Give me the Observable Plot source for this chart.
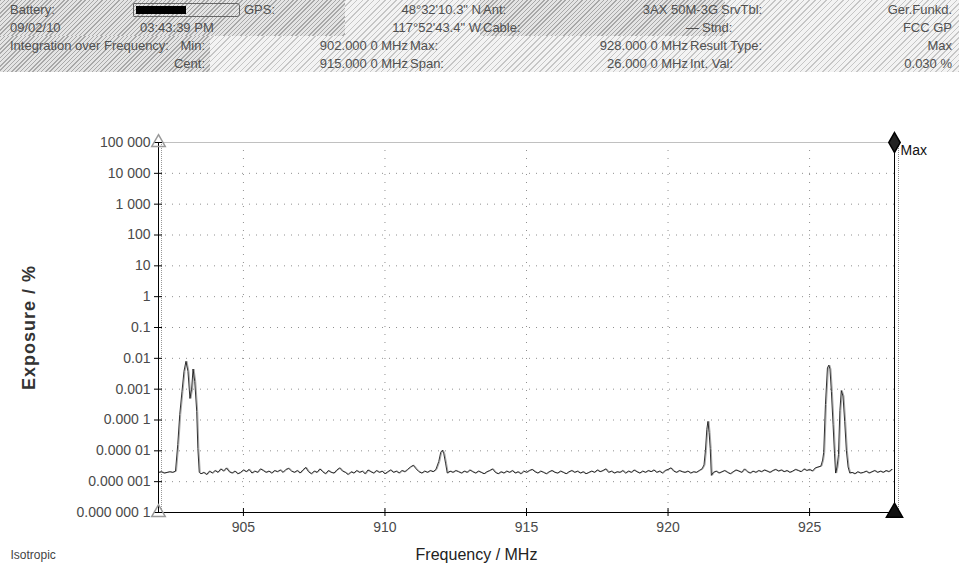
<!DOCTYPE html>
<html><head><meta charset="utf-8">
<script src="https://cdn.jsdelivr.net/npm/d3@7"></script>
<script src="https://cdn.jsdelivr.net/npm/@observablehq/plot@0.6"></script>
<style>
body{margin:0;background:#fff;font-family:"Liberation Sans",Arial,sans-serif;}
#header{position:relative;width:959px;height:72px;background:repeating-linear-gradient(135deg,#c6c6c6 0 1px,#f3f3f3 1px 4px);overflow:hidden}
.blk{position:absolute;background:repeating-linear-gradient(135deg,#a8a8a8 0 1px,#e4e4e4 1px 3px)}
.t{position:absolute;font-size:13px;line-height:14px;color:#505050;white-space:nowrap}
.bat{position:absolute;left:133px;top:3px;width:105px;height:12px;border:1px solid #666;border-radius:1px 3px 3px 1px}
.bat i{position:absolute;left:2px;top:2px;width:50px;height:8px;background:#000}
</style></head><body>
<div id="header"></div>
<div id="chart"></div>
<script>
// ---- header texts ----
const headerRow1 = ["Battery:", "", "GPS:", "48°32'10.3\" N", "Ant:", "3AX 50M-3G", "SrvTbl:", "Ger.Funkd."];
const headerRow2 = ["09/02/10", "03:43:39 PM", "", "117°52'43.4\" W", "Cable:", "—", "Stnd:", "FCC GP"];
const headerRow3 = ["Integration over Frequency:", "", "Min:", "902.000 0 MHz", "Max:", "928.000 0 MHz", "Result Type:", "Max"];
const headerRow4 = ["", "", "Cent:", "915.000 0 MHz", "Span:", "26.000 0 MHz", "Int. Val:", "0.030 %"];
const batteryLevel = 0.5;

// ---- axes ----
const yTicks = [1e5, 1e4, 1e3, 100, 10, 1, 0.1, 0.01, 0.001, 1e-4, 1e-5, 1e-6, 1e-7];
const yTickLabels = ["100 000", "10 000", "1 000", "100", "10", "1", "0.1", "0.01", "0.001", "0.000 1", "0.000 01", "0.000 001", "0.000 000 1"];
const xTicks = [905, 910, 915, 920, 925];

// ---- trace: [frequency MHz, exposure %] ----
const trace = [
[902.0,2.0e-6],[902.1,2.1e-6],[902.2,1.9e-6],[902.3,2.0e-6],[902.4,2.1e-6],[902.5,2.0e-6],[902.6,2.2e-6],
[902.68,1.6e-5],[902.75,1.5e-4],[902.83,8.5e-4],[902.9,3.8e-3],[902.97,8.0e-3],[903.04,3.8e-3],[903.11,5.0e-4],
[903.17,1.0e-3],[903.22,4.5e-3],[903.28,1.8e-3],[903.35,1.9e-4],[903.39,1.2e-5],[903.44,2.0e-6],
[903.5,1.8e-6],[903.6,2.0e-6],[903.7,1.7e-6],[903.8,2.2e-6],[903.9,1.9e-6],[904.0,2.3e-6],[904.1,2.0e-6],[904.2,2.6e-6],
[904.3,2.2e-6],[904.4,2.8e-6],[904.5,2.1e-6],[904.6,1.9e-6],[904.7,2.2e-6],[904.8,1.8e-6],[904.9,2.0e-6],[905.0,2.4e-6],
[905.1,2.1e-6],[905.2,2.5e-6],[905.3,1.9e-6],[905.4,2.2e-6],[905.5,2.0e-6],[905.6,2.6e-6],[905.7,2.3e-6],[905.8,2.0e-6],
[905.9,2.2e-6],[906.0,1.9e-6],[906.1,2.3e-6],[906.2,2.1e-6],[906.3,2.4e-6],[906.4,2.0e-6],[906.5,2.5e-6],[906.6,2.7e-6],
[906.7,2.2e-6],[906.8,2.0e-6],[906.9,2.3e-6],[907.0,1.9e-6],[907.1,2.4e-6],[907.2,2.9e-6],[907.3,2.1e-6],[907.4,1.8e-6],
[907.5,2.2e-6],[907.6,2.0e-6],[907.7,2.6e-6],[907.8,2.1e-6],[907.9,1.8e-6],[908.0,2.3e-6],[908.1,2.0e-6],[908.2,1.9e-6],
[908.3,2.4e-6],[908.4,2.8e-6],[908.5,2.2e-6],[908.6,2.0e-6],[908.7,1.7e-6],[908.8,2.1e-6],[908.9,1.9e-6],[909.0,2.3e-6],
[909.1,2.0e-6],[909.2,2.2e-6],[909.3,1.8e-6],[909.4,2.4e-6],[909.5,2.1e-6],[909.6,1.9e-6],[909.7,2.3e-6],[909.8,2.0e-6],
[909.9,2.2e-6],[910.0,1.8e-6],[910.1,2.1e-6],[910.2,2.4e-6],[910.3,2.0e-6],[910.4,2.2e-6],[910.5,1.9e-6],[910.6,2.3e-6],
[910.7,2.1e-6],[910.8,2.5e-6],[910.9,3.0e-6],[911.0,3.4e-6],[911.1,2.6e-6],[911.2,2.1e-6],[911.3,1.9e-6],[911.4,2.2e-6],
[911.5,2.0e-6],[911.6,2.3e-6],[911.7,2.1e-6],[911.8,2.5e-6],
[911.9,4.5e-6],[911.97,9.0e-6],[912.03,1.05e-5],[912.08,8.0e-6],[912.14,4.0e-6],[912.2,1.9e-6],
[912.3,2.2e-6],[912.4,2.0e-6],[912.5,2.3e-6],[912.6,2.1e-6],[912.7,1.9e-6],[912.8,2.2e-6],[912.9,2.0e-6],[913.0,2.4e-6],
[913.1,2.1e-6],[913.2,1.9e-6],[913.3,2.2e-6],[913.4,2.0e-6],[913.5,1.8e-6],[913.6,2.1e-6],[913.7,2.3e-6],[913.8,2.6e-6],
[913.9,2.0e-6],[914.0,1.8e-6],[914.1,2.1e-6],[914.2,1.9e-6],[914.3,2.2e-6],[914.4,2.0e-6],[914.5,2.3e-6],[914.6,1.9e-6],
[914.7,2.1e-6],[914.8,1.8e-6],[914.9,2.2e-6],[915.0,2.0e-6],[915.1,2.3e-6],[915.2,2.5e-6],[915.3,2.1e-6],[915.4,1.9e-6],
[915.5,2.2e-6],[915.6,2.0e-6],[915.7,1.8e-6],[915.8,2.1e-6],[915.9,2.3e-6],[916.0,2.0e-6],[916.1,1.9e-6],[916.2,2.2e-6],
[916.3,2.0e-6],[916.4,1.8e-6],[916.5,2.1e-6],[916.6,2.3e-6],[916.7,2.0e-6],[916.8,2.2e-6],[916.9,1.9e-6],[917.0,2.1e-6],
[917.1,1.8e-6],[917.2,2.0e-6],[917.3,2.2e-6],[917.4,2.0e-6],[917.5,2.4e-6],[917.6,2.1e-6],[917.7,2.3e-6],[917.8,2.6e-6],
[917.9,2.0e-6],[918.0,2.2e-6],[918.1,1.9e-6],[918.2,2.1e-6],[918.3,2.0e-6],[918.4,2.3e-6],[918.5,1.9e-6],[918.6,2.2e-6],
[918.7,2.0e-6],[918.8,2.4e-6],[918.9,2.1e-6],[919.0,1.9e-6],[919.1,2.2e-6],[919.2,2.0e-6],[919.3,2.3e-6],[919.4,2.1e-6],
[919.5,2.4e-6],[919.6,2.0e-6],[919.7,2.2e-6],[919.8,1.9e-6],[919.9,2.3e-6],[920.0,2.5e-6],[920.1,2.8e-6],[920.2,2.2e-6],
[920.3,2.0e-6],[920.4,2.3e-6],[920.5,2.1e-6],[920.6,2.0e-6],[920.7,2.2e-6],[920.8,1.9e-6],[920.9,2.1e-6],[921.0,2.0e-6],
[921.1,2.3e-6],[921.2,2.6e-6],
[921.27,3.5e-6],[921.32,1.0e-5],[921.37,5.0e-5],[921.41,9.0e-5],[921.45,4.0e-5],[921.49,1.2e-5],[921.53,1.6e-6],
[921.6,2.0e-6],[921.7,2.2e-6],[921.8,1.9e-6],[921.9,2.1e-6],[922.0,2.3e-6],[922.1,2.0e-6],[922.2,1.8e-6],[922.3,2.1e-6],
[922.4,2.4e-6],[922.5,2.2e-6],[922.6,2.0e-6],[922.7,2.6e-6],[922.8,2.1e-6],[922.9,1.9e-6],[923.0,2.2e-6],[923.1,2.0e-6],
[923.2,2.3e-6],[923.3,2.1e-6],[923.4,2.4e-6],[923.5,2.2e-6],[923.6,2.0e-6],[923.7,2.3e-6],[923.8,2.5e-6],[923.9,2.2e-6],
[924.0,2.4e-6],[924.1,2.1e-6],[924.2,2.3e-6],[924.3,2.0e-6],[924.4,2.2e-6],[924.5,2.5e-6],[924.6,2.3e-6],[924.7,2.1e-6],
[924.8,2.6e-6],[924.9,2.3e-6],[925.0,2.5e-6],[925.1,2.2e-6],[925.2,2.8e-6],[925.3,3.0e-6],[925.4,3.2e-6],
[925.46,5.0e-6],[925.5,9.0e-6],[925.56,3.2e-4],[925.63,4.9e-3],[925.68,6.0e-3],[925.72,4.5e-3],[925.77,8.5e-4],
[925.83,7.0e-5],[925.88,8.0e-6],[925.92,1.9e-6],[925.97,3.0e-6],[926.02,7.5e-6],[926.07,2.0e-4],[926.12,9.0e-4],
[926.18,6.0e-4],[926.24,9.0e-5],[926.3,1.0e-5],[926.36,3.0e-6],[926.42,1.9e-6],
[926.5,2.0e-6],[926.6,1.8e-6],[926.7,2.1e-6],[926.8,1.9e-6],[926.9,2.0e-6],[927.0,2.2e-6],[927.1,1.9e-6],[927.2,2.1e-6],
[927.3,2.3e-6],[927.4,2.0e-6],[927.5,2.2e-6],[927.6,2.0e-6],[927.7,2.3e-6],[927.8,2.1e-6],[927.9,2.5e-6]
];

// ---- markers ----
const maxMarker = [{freq: 928, value: 1e5, label: "Max"}];
const bottomMarker = [{freq: 928, value: 1e-7}];
const leftMarkers = [{freq: 902, value: 1e5}, {freq: 902, value: 1e-7}];

// ---- header layout ----
const rows = [headerRow1, headerRow2, headerRow3, headerRow4];
const layouts = [
  [["l",10],null,["l",244],["r",481],["l",483],["r",718],["l",721],["r",952]],
  [["l",10],["l",140],null,["r",481],["l",483],["r",699],["l",702],["r",952]],
  [["l",10],null,["r",205],["r",408],["l",410],["r",688],["l",690],["r",952]],
  [null,null,["r",205],["r",408],["l",410],["r",688],["l",690],["r",952]]
];
const header = document.getElementById("header");
[[0,0,345,36],[480,0,245,36],[0,36,210,36]].forEach(([x,y,w,h]) => {
  const d = document.createElement("div"); d.className = "blk";
  Object.assign(d.style, {left:x+"px", top:y+"px", width:w+"px", height:h+"px"});
  header.appendChild(d);
});
rows.forEach((row, ri) => {
  row.forEach((txt, ci) => {
    const lay = layouts[ri][ci];
    if (!lay || !txt) return;
    const s = document.createElement("span"); s.className = "t"; s.textContent = txt;
    s.style.top = (3 + ri * 18) + "px";
    if (lay[0] === "l") s.style.left = lay[1] + "px";
    else s.style.right = (959 - lay[1]) + "px";
    header.appendChild(s);
  });
});
const bat = document.createElement("div"); bat.className = "bat";
const fillEl = document.createElement("i"); fillEl.style.width = Math.round(100 * batteryLevel) + "px";
bat.appendChild(fillEl); header.appendChild(bat);

// ---- chart ----
const labelOf = new Map(yTicks.map((t, i) => [t, yTickLabels[i]]));
const chart = Plot.plot({
  width: 959, height: 506,
  marginTop: 70, marginBottom: 66, marginLeft: 158, marginRight: 65,
  style: {fontFamily: '"Liberation Sans", Arial, sans-serif', background: "#fff", overflow: "visible"},
  x: {domain: [902, 928]},
  y: {type: "log", domain: [1e-7, 1e5]},
  marks: [
    Plot.gridY(yTicks.slice(1, -1), {stroke: "#909090", strokeOpacity: 1, strokeDasharray: "1,6"}),
    Plot.gridX(xTicks, {stroke: "#909090", strokeOpacity: 1, strokeDasharray: "1,7"}),
    Plot.ruleY([1e5], {stroke: "#c0c0c0"}),
    Plot.line(trace, {x: d => d[0], y: d => d[1], stroke: "#a8a8a8", strokeWidth: 1, dx: 1}),
    Plot.line(trace, {x: d => d[0], y: d => d[1], stroke: "#1a1a1a", strokeWidth: 0.9}),
    Plot.ruleX([902], {stroke: "#000"}),
    Plot.ruleX([902], {stroke: "#999", dx: 3, strokeDasharray: "1,1"}),
    Plot.ruleX([928], {stroke: "#000"}),
    Plot.ruleX([928], {stroke: "#888", dx: 4, strokeDasharray: "1,1"}),
    Plot.ruleY([1e-7], {stroke: "#000"}),
    Plot.ruleY(yTicks, {x1: 902, x2: 902, insetLeft: 4, insetRight: 4, stroke: "#000"}),
    Plot.ruleX(xTicks, {y1: 1e-7, y2: 1e-7, insetTop: 4, insetBottom: 4, stroke: "#000"}),
    Plot.axisY({ticks: yTicks, tickFormat: d => labelOf.get(d), tickSize: 0, tickPadding: 8, fontSize: 14, color: "#4a4a4a", label: null}),
    Plot.axisX({ticks: xTicks, tickSize: 0, tickPadding: 10, fontSize: 14, color: "#4a4a4a", label: null}),
    Plot.text(["Exposure / %"], {text: d => d, frameAnchor: "left", textAnchor: "middle", rotate: -90, dx: -129, fontSize: 18, fontWeight: "bold", fill: "#333"}),
    Plot.text(["Frequency / MHz"], {text: d => d, frameAnchor: "bottom", dx: -50, dy: 47, fontSize: 16, fill: "#222"}),
    Plot.text(["Isotropic"], {text: d => d, frameAnchor: "bottom-left", dx: -148, dy: 46, textAnchor: "start", fontSize: 12, fill: "#444"}),
    Plot.dot(leftMarkers, {x: "freq", y: "value", symbol: "triangle", r: 5, fill: "none", stroke: "#999"}),
    Plot.dot(maxMarker, {x: "freq", y: "value", symbol: "diamond", r: 6, fill: "#222", stroke: "#000"}),
    Plot.text(maxMarker, {x: "freq", y: "value", text: "label", dx: 6, dy: 8, textAnchor: "start", fontSize: 14, fill: "#111"}),
    Plot.dot(bottomMarker, {x: "freq", y: "value", symbol: "triangle", r: 6, fill: "#111", stroke: "#000"})
  ]
});
d3.select(chart).selectAll("text").filter(function() { return this.textContent === "Exposure / %"; }).attr("letter-spacing", "1");
document.getElementById("chart").appendChild(chart);
</script>
</body></html>
